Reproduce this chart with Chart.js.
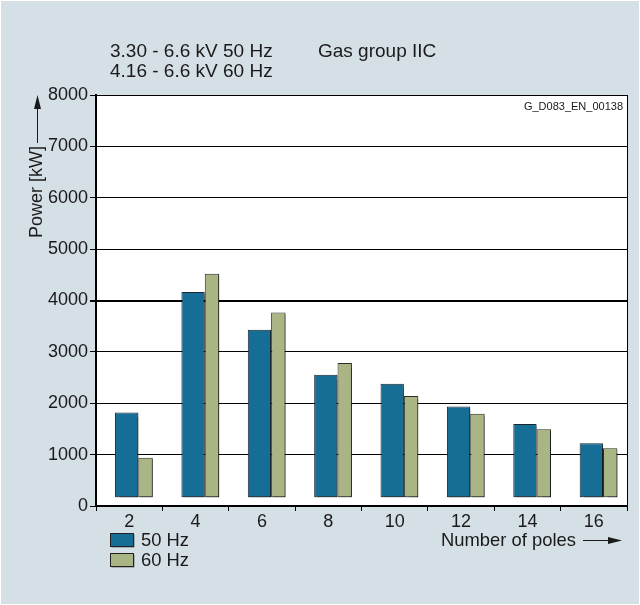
<!DOCTYPE html>
<html><head><meta charset="utf-8">
<script src="https://cdn.jsdelivr.net/npm/chart.js@4.4.1/dist/chart.umd.min.js"></script>
<style>html,body{margin:0;padding:0;background:#fff;overflow:hidden;}</style>
</head><body>
<canvas id="c" width="640" height="605" style="display:block;width:640px;height:605px"></canvas>
<script>
const poles = ['2', '4', '6', '8', '10', '12', '14', '16'];
const power50Hz = [1820, 4165, 3430, 2555, 2380, 1935, 1595, 1220];
const power60Hz = [940, 4520, 3765, 2785, 2140, 1795, 1495, 1125];
const barBase = 170;
const seriesNames = ['50 Hz', '60 Hz'];
const headerLines = ['3.30 - 6.6 kV 50 Hz', '4.16 - 6.6 kV 60 Hz'];
const headerRight = 'Gas group IIC';
const docId = 'G_D083_EN_00138';
const yTitle = 'Power [kW]';
const xTitle = 'Number of poles';

const FONT = '"Liberation Sans", Arial, Helvetica, sans-serif';
const TXT = '#1a1a1a';
const BG = '#d5dfe6';
const C50 = '#166e96';
const C60 = '#a9b584';

const decor = {
  id: 'decor',
  beforeDraw(chart) {
    const ctx = chart.ctx, a = chart.chartArea;
    ctx.save();
    ctx.fillStyle = '#ffffff';
    ctx.fillRect(0, 0, chart.width, chart.height);
    ctx.fillStyle = BG;
    ctx.fillRect(1, 1, chart.width - 2, chart.height - 2);
    ctx.fillStyle = '#ffffff';
    ctx.fillRect(a.left, a.top, a.right - a.left, a.bottom - a.top);
    ctx.restore();
  },
  beforeDatasetsDraw(chart) {
    const ctx = chart.ctx;
    ctx.save();
    ctx.shadowColor = 'rgba(0,0,0,0.45)';
    ctx.shadowOffsetX = 1.5;
    ctx.shadowOffsetY = 1.5;
    ctx.shadowBlur = 1;
  },
  afterDatasetsDraw(chart) {
    chart.ctx.restore();
  },
  afterDraw(chart) {
    const ctx = chart.ctx, a = chart.chartArea;
    ctx.save();
    ctx.strokeStyle = '#000';
    ctx.lineWidth = 1;
    ctx.beginPath();
    ctx.moveTo(Math.round(a.right) + 0.5, a.top);
    ctx.lineTo(Math.round(a.right) + 0.5, a.bottom);
    ctx.stroke();

    ctx.fillStyle = TXT;
    ctx.textBaseline = 'middle';
    ctx.textAlign = 'left';
    ctx.font = '19px ' + FONT;
    ctx.fillText(headerLines[0], 110, 52);
    ctx.fillText(headerLines[1], 110, 72);
    ctx.fillText(headerRight, 318, 52);

    ctx.font = '11px ' + FONT;
    ctx.textAlign = 'right';
    ctx.fillText(docId, 623, 107);

    ctx.save();
    ctx.translate(37, 192);
    ctx.rotate(-Math.PI / 2);
    ctx.textAlign = 'center';
    ctx.font = '18px ' + FONT;
    ctx.fillText(yTitle, 0, 0);
    ctx.restore();
    ctx.strokeStyle = TXT;
    ctx.lineWidth = 1;
    ctx.beginPath();
    ctx.moveTo(37.5, 143);
    ctx.lineTo(37.5, 106);
    ctx.stroke();
    ctx.beginPath();
    ctx.moveTo(37.5, 95);
    ctx.lineTo(41, 109);
    ctx.lineTo(34, 109);
    ctx.closePath();
    ctx.fill();

    ctx.textAlign = 'left';
    ctx.font = '18.4px ' + FONT;
    ctx.fillText(xTitle, 441, 541);
    ctx.beginPath();
    ctx.moveTo(583, 540.5);
    ctx.lineTo(610, 540.5);
    ctx.stroke();
    ctx.beginPath();
    ctx.moveTo(622, 540.5);
    ctx.lineTo(608, 537);
    ctx.lineTo(608, 544);
    ctx.closePath();
    ctx.fill();

    const ds = chart.data.datasets;
    const rows = [533, 553];
    ds.forEach((d, i) => {
      const y = rows[i];
      ctx.save();
      ctx.shadowColor = 'rgba(0,0,0,0.45)';
      ctx.shadowOffsetX = 1;
      ctx.shadowOffsetY = 1;
      ctx.fillStyle = d.backgroundColor;
      ctx.fillRect(110.5, y + 0.5, 23, 13);
      ctx.restore();
      ctx.strokeStyle = '#222';
      ctx.lineWidth = 1;
      ctx.strokeRect(110.5, y + 0.5, 23, 13);
      ctx.fillStyle = TXT;
      ctx.font = '18.4px ' + FONT;
      ctx.textBaseline = 'middle';
      ctx.fillText(d.label, 141, y + 7.5);
    });
    ctx.restore();
  }
};

new Chart(document.getElementById('c'), {
  type: 'bar',
  data: {
    labels: poles,
    datasets: [
      {
        label: seriesNames[0],
        data: power50Hz.map(v => [barBase, v]),
        backgroundColor: C50,
        borderColor: '#1b2730',
        borderWidth: 1,
        borderSkipped: false,
        categoryPercentage: 0.1507,
        barPercentage: 4.66
      },
      {
        label: seriesNames[1],
        data: power60Hz.map(v => [barBase, v]),
        backgroundColor: C60,
        borderColor: '#2a2d22',
        borderWidth: 1,
        borderSkipped: false,
        categoryPercentage: 0.988,
        barPercentage: 0.439
      }
    ]
  },
  options: {
    responsive: false,
    animation: false,
    devicePixelRatio: 1,
    layout: { padding: { left: 0, right: 13, top: 95, bottom: 0 } },
    plugins: { legend: { display: false }, tooltip: { enabled: false }, title: { display: false } },
    scales: {
      x: {
        offset: true,
        afterFit(s) { s.height = 99; },
        grid: { drawOnChartArea: false, drawTicks: true, tickLength: 5, tickColor: '#000', color: '#000', offset: true },
        border: { display: true, color: '#000', width: 2 },
        ticks: { color: TXT, font: { family: FONT, size: 18 }, padding: 0, maxRotation: 0 }
      },
      y: {
        min: 0,
        max: 8000,
        afterFit(s) { s.width = 96; },
        grid: {
          color: '#000',
          tickColor: '#000',
          tickLength: 6,
          lineWidth: (c) => (c.tick && c.tick.value === 4000 ? 2 : 1)
        },
        border: { display: true, color: '#000', width: 2 },
        ticks: {
          stepSize: 1000,
          color: TXT,
          padding: 2,
          font: { family: FONT, size: 18 },
          callback: (v) => String(v)
        }
      }
    }
  },
  plugins: [decor]
});
</script>
</body></html>
